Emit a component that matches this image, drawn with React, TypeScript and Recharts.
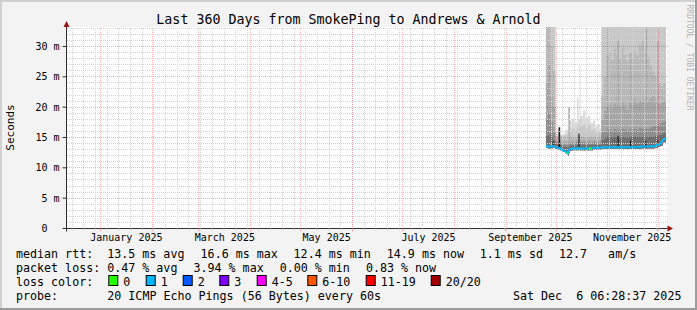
import React from 'react';
import { ComposedChart, Area, Line, XAxis, YAxis, ReferenceLine, CartesianGrid } from 'recharts';

// ---- data (days since 1 Jan 2025, values in ms) ----
const days = [266.9, 268.3, 269.6, 271.0, 272.5, 274.0, 275.5, 277.0, 278.5, 280.0, 280.5, 281.1, 282.5, 284.0, 285.5, 286.4, 287.0, 287.6, 289.0, 290.5, 292.0, 293.5, 295.0, 296.5, 298.0, 299.3, 300.1, 301.5, 303.0, 304.5, 306.0, 307.5, 309.0, 309.8, 310.5, 312.0, 313.5, 315.0, 316.5, 317.4, 318.0, 319.5, 321.0, 322.5, 324.0, 325.5, 326.9, 327.5, 329.0, 330.5, 332.0, 333.6, 334.2, 335.5, 337.0, 338.8];
const minRtt = [13.3, 13.2, 13.2, 13.3, 13.1, 13.0, 12.9, 12.6, 12.4, 12.0, 12.4, 12.8, 12.9, 12.9, 12.9, 13.0, 12.9, 12.9, 12.9, 12.9, 12.9, 12.9, 13.0, 13.0, 13.0, 13.0, 13.1, 13.1, 13.1, 13.1, 13.1, 13.1, 13.1, 13.1, 13.1, 13.1, 13.1, 13.1, 13.1, 13.1, 13.1, 13.1, 13.1, 13.1, 13.2, 13.2, 13.2, 13.2, 13.2, 13.2, 13.3, 13.4, 13.5, 13.7, 14.2, 14.5];
const medianRtt = [13.6, 13.5, 13.5, 13.6, 13.4, 13.3, 13.2, 12.9, 12.7, 12.4, 12.8, 13.1, 13.2, 13.2, 13.2, 13.3, 13.2, 13.2, 13.2, 13.2, 13.2, 13.2, 13.3, 13.3, 13.3, 13.3, 13.4, 13.4, 13.4, 13.4, 13.4, 13.4, 13.4, 13.4, 13.4, 13.4, 13.4, 13.4, 13.4, 13.4, 13.4, 13.4, 13.4, 13.4, 13.5, 13.5, 13.5, 13.5, 13.5, 13.5, 13.6, 13.8, 13.8, 14.0, 14.6, 14.9];
const smoke1 = [15.2, 15.5, 15.0, 14.6, 13.9, 13.8, 13.7, 13.5, 13.4, 13.3, 13.6, 13.7, 13.7, 13.8, 13.8, 13.9, 13.8, 13.8, 13.8, 13.8, 13.8, 13.8, 13.8, 13.8, 13.8, 13.8, 14.6, 14.8, 15.0, 15.0, 14.9, 15.1, 15.0, 15.0, 15.0, 15.1, 15.0, 14.9, 15.0, 15.2, 15.0, 15.1, 15.0, 15.1, 15.0, 15.0, 15.0, 15.0, 15.1, 15.1, 15.2, 15.3, 15.4, 15.5, 15.8, 15.8];
const smoke2 = [18.0, 19.0, 17.5, 16.0, 14.2, 14.1, 14.0, 13.9, 13.8, 13.8, 14.0, 14.0, 14.1, 14.1, 14.2, 14.3, 14.2, 14.2, 14.2, 14.2, 14.2, 14.1, 14.2, 14.1, 14.2, 14.1, 15.8, 16.0, 16.2, 16.3, 16.0, 16.4, 16.2, 16.2, 16.2, 16.5, 16.3, 16.1, 16.3, 16.5, 16.2, 16.4, 16.2, 16.6, 16.4, 16.3, 16.5, 16.4, 16.6, 16.8, 17.0, 17.0, 17.2, 17.4, 17.6, 17.6];
const smoke3 = [24.0, 27.0, 22.0, 20.0, 14.5, 14.4, 14.4, 14.3, 14.2, 14.2, 20.0, 14.4, 14.5, 14.5, 14.6, 14.7, 14.6, 14.6, 14.6, 14.6, 14.6, 14.5, 14.6, 14.5, 14.5, 14.5, 18.0, 19.5, 20.0, 20.5, 19.8, 20.6, 20.2, 31.0, 20.2, 21.0, 20.4, 19.6, 20.8, 28.9, 20.5, 21.2, 20.6, 21.0, 20.8, 21.4, 33.0, 20.9, 21.5, 21.8, 21.2, 31.0, 20.5, 20.8, 21.0, 21.0];
const smoke4 = [45, 45, 30.0, 26.0, 14.9, 14.8, 14.8, 14.7, 14.6, 14.6, 20.0, 14.9, 15.0, 15.0, 15.2, 15.3, 15.2, 15.1, 15.1, 15.0, 15.1, 15.0, 15.0, 14.9, 15.0, 14.9, 22.0, 25.0, 28.5, 29.0, 27.8, 29.5, 28.4, 31.0, 28.0, 29.8, 28.6, 27.5, 28.8, 29.0, 28.0, 29.2, 28.5, 30.2, 31.0, 29.6, 33.0, 28.2, 27.0, 26.0, 25.0, 31.0, 24.0, 23.5, 24.0, 24.0];
const smoke5 = [45, 45, 45, 45, 15.3, 15.2, 15.3, 15.2, 15.5, 15.4, 20.0, 16.0, 16.5, 16.2, 17.0, 16.5, 18.0, 16.8, 17.2, 16.5, 17.0, 16.2, 16.4, 15.8, 16.0, 15.6, 45, 45, 45, 45, 45, 45, 45, 45, 45, 45, 45, 45, 45, 45, 45, 45, 45, 45, 45, 45, 45, 45, 45, 45, 45, 45, 45, 45, 45, 45];
const smoke6 = [45, 45, 45, 45, 15.6, 15.8, 15.4, 15.6, 16.3, 16.0, 20.0, 17.8, 18.1, 17.5, 21.6, 18.0, 26.9, 18.6, 19.5, 18.2, 18.6, 17.4, 17.8, 16.8, 17.2, 16.4, 45, 45, 45, 45, 45, 45, 45, 45, 45, 45, 45, 45, 45, 45, 45, 45, 45, 45, 45, 45, 45, 45, 45, 45, 45, 45, 45, 45, 45, 45];

const spikeStart = [270.9, 274.4, 286.3, 309.7, 317.2, 326.2, 333.4];
const spikeEnd = [271.6, 275.4, 287.0, 310.4, 317.8, 327.0, 334.0];
const spikeLow = [13.6, 13.3, 13.3, 13.4, 13.4, 13.5, 13.7];
const spikeHigh = [14.3, 16.7, 15.6, 15.3, 14.5, 14.4, 14.5];

const greenStart = [279.3, 292.6];
const greenEnd = [280.3, 294.2];
const greenRtt = [12.5, 13.2];

const monthStartDays = [0, 31, 59, 90, 120, 151, 181, 212, 243, 273, 304, 334];
const weekDays = [-17, -10, -3, 4, 11, 18, 25, 32, 39, 46, 53, 60, 67, 74, 81, 88, 95, 102, 109, 116, 123, 130, 137, 144, 151, 158, 165, 172, 179, 186, 193, 200, 207, 214, 221, 228, 235, 242, 249, 256, 263, 270, 277, 284, 291, 298, 305, 312, 319, 326, 333];
const labelDays = [15.5, 74.5, 135.5, 196.5, 257.5, 318.5];
const labelTexts = ['January 2025', 'March 2025', 'May 2025', 'July 2025', 'September 2025', 'November 2025'];
const yMajorTicks = [0, 5, 10, 15, 20, 25, 30];
const yMinorTicks = [1, 2, 3, 4, 6, 7, 8, 9, 11, 12, 13, 14, 16, 17, 18, 19, 21, 22, 23, 24, 26, 27, 28, 29, 31, 32, 33];

const lossLabels = ['0', '1', '2', '3', '4-5', '6-10', '11-19', '20/20'];
const lossColors = ['#26ff00', '#00b8ff', '#0059ff', '#7e00ff', '#ff00ff', '#ff5500', '#ff0000', '#a00000'];
const smokeColors = ['#707070', '#8e8e8e', '#a6a6a6', '#b8b8b8', '#c8c8c8', '#dcdcdc'];

const D0 = -20.36;
const D1 = 339.69;
const Y_MAX = 33.21;

// ---- tables built from the arrays ----
const smokes = [smoke1, smoke2, smoke3, smoke4, smoke5, smoke6];
const rows = days.map((d, i) => {
  const r: any = { d, med: medianRtt[i] };
  smokes.forEach((s, k) => { r['s' + (k + 1)] = [minRtt[i], s[i]]; });
  return r;
});
const spikeRows: any[] = [];
spikeStart.forEach((s, i) => {
  spikeRows.push({ d: s, v: [spikeLow[i], spikeHigh[i]] });
  spikeRows.push({ d: spikeEnd[i], v: [spikeLow[i], spikeHigh[i]] });
  spikeRows.push({ d: spikeEnd[i] + 0.01, v: null });
});
const greenRows: any[] = [];
greenStart.forEach((s, i) => {
  greenRows.push({ d: s, g: greenRtt[i] });
  greenRows.push({ d: greenEnd[i], g: greenRtt[i] });
  greenRows.push({ d: greenEnd[i] + 0.01, g: null });
});
const xTicks = [...weekDays.filter((w) => !monthStartDays.includes(w)), ...monthStartDays, ...labelDays].sort((a, b) => a - b);

const FONT = "'DejaVu Sans Mono', monospace";
const AXIS = '#303030';

function XTick(props: any) {
  const { x, y, payload } = props;
  const v = payload.value;
  const li = labelDays.indexOf(v);
  if (li >= 0) {
    return (
      <text x={x} y={y + 12.8} textAnchor="middle" fontFamily={FONT} fontSize={10} fill="#000">
        {labelTexts[li]}
      </text>
    );
  }
  if (monthStartDays.includes(v)) {
    return <line x1={x} x2={x} y1={y} y2={y + 3} stroke="#f4a8a8" />;
  }
  return <line x1={x} x2={x} y1={y} y2={y + 2} stroke="#d0d0d0" />;
}

function YTick(props: any) {
  const { x, y, payload } = props;
  const v = payload.value;
  const s = v === 0 ? '0  ' : `${v} m`;
  return (
    <text x={x} y={y} dy="0.36em" textAnchor="end" xmlSpace="preserve" style={{ whiteSpace: 'pre' }} fontFamily={FONT} fontSize={10} fill="#000">
      {s}
    </text>
  );
}

const LF = 11.66;
const line1: [number, string][] = [
  [16, 'median rtt:  13.5 ms avg'],
  [200.6, '16.6 ms max'],
  [293.6, '12.4 ms min'],
  [386.8, '14.9 ms now'],
  [479.8, '1.1 ms sd'],
  [559, '12.7   am/s'],
];
const line2: [number, string][] = [
  [16, 'packet loss: 0.47 % avg'],
  [193.5, '3.94 % max'],
  [279.7, '0.00 % min'],
  [365.9, '0.83 % now'],
];
const lossBoxX = [108.3, 145.7, 182.7, 219.3, 256.7, 307.3, 365.7, 430.7];

export default function App() {
  return (
    <div style={{ position: 'absolute', left: 0, top: 0, width: 697, height: 310, background: '#f3f3f3', overflow: 'hidden' }}>
      <ComposedChart width={697} height={310} data={rows} margin={{ top: 27, right: 29.5, bottom: 61.5, left: 0.5 }}>
        <CartesianGrid fill="#ffffff" horizontal={false} vertical={false} stroke="none" />
        <XAxis
          type="number"
          dataKey="d"
          domain={[D0, D1]}
          allowDataOverflow
          ticks={xTicks}
          interval={0}
          tick={(p: any) => <XTick {...p} />}
          tickLine={false}
          tickSize={0}
          tickMargin={0}
          axisLine={{ stroke: AXIS }}
          height={20}
        />
        <YAxis
          type="number"
          domain={[0, Y_MAX]}
          allowDataOverflow
          ticks={yMajorTicks}
          interval={0}
          width={66}
          tick={(p: any) => <YTick {...p} />}
          tickSize={4}
          tickMargin={3}
          tickLine={{ stroke: AXIS }}
          axisLine={{ stroke: AXIS }}
        />
        {[5, 4, 3, 2, 1, 0].map((k) => (
          <Area
            key={'s' + k}
            type="stepAfter"
            dataKey={'s' + (k + 1)}
            stroke="none"
            fill={smokeColors[k]}
            fillOpacity={1}
            isAnimationActive={false}
            dot={false}
            activeDot={false}
          />
        ))}
        <Area
          type="stepAfter"
          data={spikeRows}
          dataKey="v"
          stroke="none"
          fill="#1c1c1c"
          fillOpacity={1}
          isAnimationActive={false}
          dot={false}
          activeDot={false}
        />
        {yMinorTicks.map((v) => (
          <ReferenceLine key={'ym' + v} y={v} stroke="#d4d4d4" strokeDasharray="1 1" shapeRendering="crispEdges" />
        ))}
        {weekDays.map((d) => (
          <ReferenceLine key={'xm' + d} x={d} stroke="#d4d4d4" strokeDasharray="1 1" shapeRendering="crispEdges" />
        ))}
        {yMajorTicks.filter((v) => v > 0).map((v) => (
          <ReferenceLine key={'yM' + v} y={v} stroke="#ff0000" strokeOpacity={0.33} strokeDasharray="1 1" shapeRendering="crispEdges" />
        ))}
        {monthStartDays.map((d) => (
          <ReferenceLine key={'xM' + d} x={d} stroke="#ff0000" strokeOpacity={0.28} strokeDasharray="1 1" shapeRendering="crispEdges" />
        ))}
        <Line type="linear" dataKey="med" stroke="#00b8ff" strokeWidth={2} dot={false} activeDot={false} isAnimationActive={false} />
        <Line type="linear" data={greenRows} dataKey="g" stroke="#26ff00" strokeWidth={2} dot={false} activeDot={false} isAnimationActive={false} />
      </ComposedChart>
      <svg width={697} height={310} style={{ position: 'absolute', left: 0, top: 0, pointerEvents: 'none' }}>
        {/* frame */}
        <rect x={0} y={0} width={697} height={2} fill="#d0d0d0" />
        <rect x={0} y={0} width={2} height={310} fill="#d0d0d0" />
        <rect x={0} y={308} width={697} height={2} fill="#9c9c9c" />
        <rect x={695} y={0} width={2} height={310} fill="#9c9c9c" />
        {/* axis extensions and arrows */}
        <line x1={63} x2={66.5} y1={228.5} y2={228.5} stroke={AXIS} />
        <line x1={667.5} x2={669} y1={228.5} y2={228.5} stroke={AXIS} />
        <line x1={66.5} x2={66.5} y1={228.5} y2={231.5} stroke={AXIS} />
        <line x1={66.5} x2={66.5} y1={24} y2={27} stroke={AXIS} />
        <polygon points="66.5,21 63.5,27 69.5,27" fill="#991111" />
        <polygon points="673,228.5 667.5,225.5 667.5,231.5" fill="#991111" />
        {/* title */}
        <text x={348.5} y={24} textAnchor="middle" fontFamily={FONT} fontSize={13.3} fill="#000">
          Last 360 Days from SmokePing to Andrews &amp; Arnold
        </text>
        {/* y label */}
        <text transform="translate(13.5,127.5) rotate(-90)" textAnchor="middle" fontFamily={FONT} fontSize={11} fill="#000">
          Seconds
        </text>
        {/* watermark */}
        <text transform="translate(686.5,57.5) rotate(90)" textAnchor="middle" fontFamily={FONT} fontSize={8} fill="#b4b4b4">
          RRDTOOL / TOBI OETIKER
        </text>
        {/* legend */}
        {line1.map(([x, t], i) => (
          <text key={'l1' + i} x={x} y={258.3} xmlSpace="preserve" style={{ whiteSpace: 'pre' }} fontFamily={FONT} fontSize={LF} fill="#000">{t}</text>
        ))}
        {line2.map(([x, t], i) => (
          <text key={'l2' + i} x={x} y={272.3} xmlSpace="preserve" style={{ whiteSpace: 'pre' }} fontFamily={FONT} fontSize={LF} fill="#000">{t}</text>
        ))}
        <text x={16} y={286.3} fontFamily={FONT} fontSize={LF} fill="#000">loss color:</text>
        {lossLabels.map((t, i) => (
          <g key={'lc' + i}>
            <rect x={lossBoxX[i] + 0.5} y={275.5} width={9} height={10} fill={lossColors[i]} stroke="#000" strokeWidth={1} />
            <text x={lossBoxX[i] + 15} y={286.3} fontFamily={FONT} fontSize={LF} fill="#000">{t}</text>
          </g>
        ))}
        <text x={16} y={300.3} fontFamily={FONT} fontSize={LF} fill="#000">probe:</text>
        <text x={107.3} y={300.3} fontFamily={FONT} fontSize={LF} fill="#000">20 ICMP Echo Pings (56 Bytes) every 60s</text>
        <text x={513} y={300.3} xmlSpace="preserve" style={{ whiteSpace: 'pre' }} fontFamily={FONT} fontSize={LF} fill="#000">Sat Dec  6 06:28:37 2025</text>
      </svg>
    </div>
  );
}
